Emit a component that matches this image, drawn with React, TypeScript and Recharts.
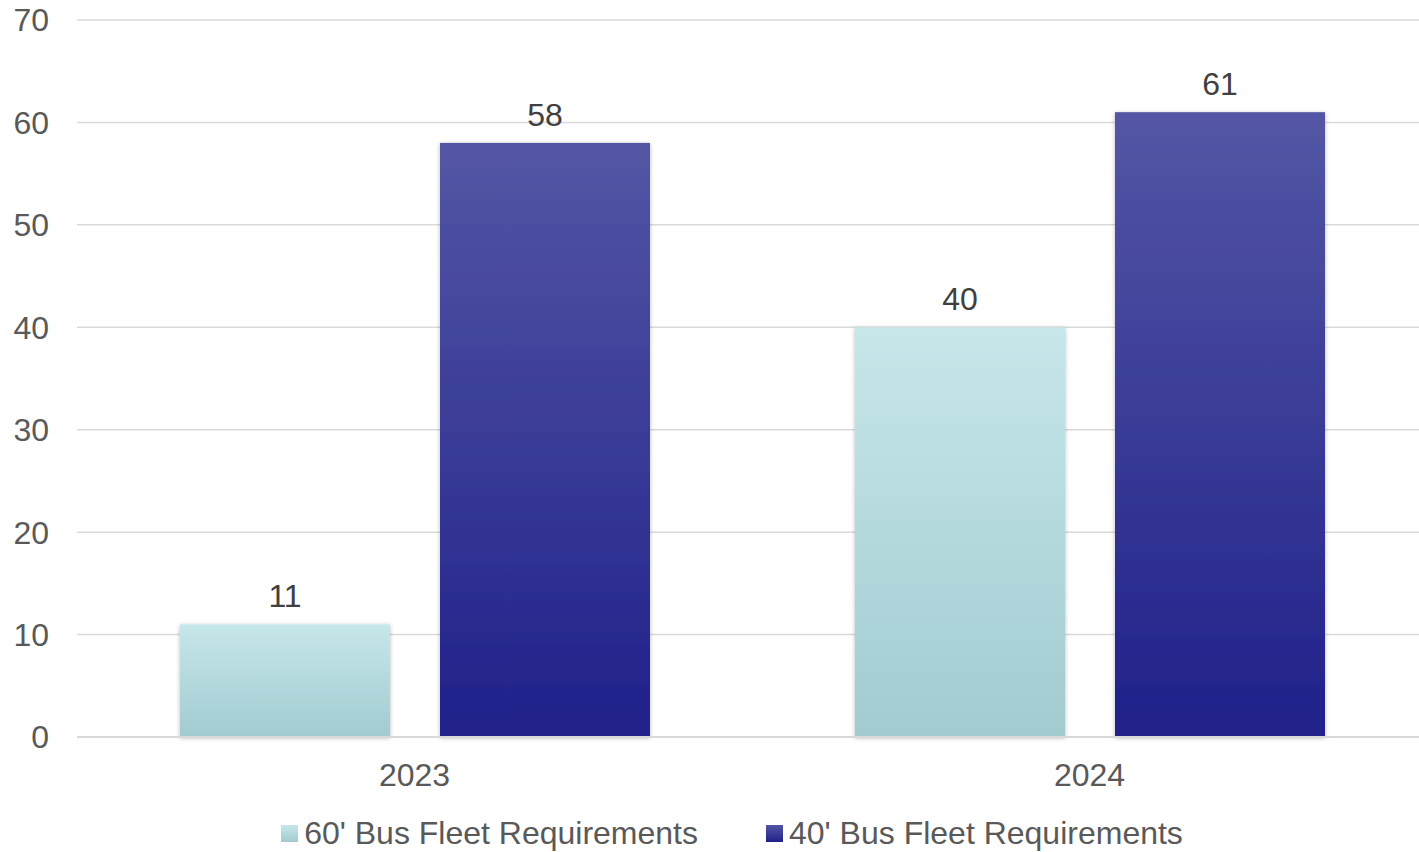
import React from "react";
import {
  BarChart,
  Bar,
  XAxis,
  YAxis,
  CartesianGrid,
  Legend,
  LabelList,
} from "recharts";

const YEARS = ["2023", "2024"];
const BUS_60 = [11, 40];
const BUS_40 = [58, 61];
const Y_TICKS = [0, 10, 20, 30, 40, 50, 60, 70];

const SERIES = [
  { key: "bus60", name: "60' Bus Fleet Requirements", top: "#c6e7ea", bottom: "#a2cbd0", grad: "gradLight" },
  { key: "bus40", name: "40' Bus Fleet Requirements", top: "#5356a4", bottom: "#20208a", grad: "gradDark" },
];

const data = YEARS.map((year, i) => ({
  year,
  bus60: BUS_60[i],
  bus40: BUS_40[i],
}));

const FONT = "'Liberation Sans', Arial, sans-serif";

function ShadowBar(props: any) {
  const { x, y, width, height, fill } = props;
  if (!height || height <= 0) return null;
  return <rect x={x} y={y} width={width} height={height} fill={fill} filter="url(#barShadow)" />;
}

function FleetLegend() {
  return (
    <div
      style={{
        display: "flex",
        justifyContent: "center",
        alignItems: "center",
        paddingLeft: 45,
        paddingTop: 18,
        fontFamily: FONT,
        fontSize: 32,
        color: "#595959",
        height: 37,
      }}
    >
      {SERIES.map((s, i) => (
        <div
          key={s.key}
          style={{ display: "flex", alignItems: "center", marginLeft: i === 0 ? 0 : 68 }}
        >
          <span
            style={{
              display: "inline-block",
              width: 17,
              height: 17,
              marginRight: 6,
              background: `linear-gradient(${s.top}, ${s.bottom})`,
            }}
          />
          <span>{s.name}</span>
        </div>
      ))}
    </div>
  );
}

export default function App() {
  return (
    <div style={{ width: 1419, height: 852, background: "#ffffff", overflow: "hidden" }}>
      <style>{`body{margin:0;overflow:hidden;}`}</style>
      <BarChart
        width={1427}
        height={852}
        data={data}
        margin={{ top: 20, right: 0, bottom: 0, left: 0 }}
        barSize={210}
        barGap={50}
      >
        <defs>
          {SERIES.map((s) => (
            <linearGradient key={s.grad} id={s.grad} x1="0" y1="0" x2="0" y2="1">
              <stop offset="0%" stopColor={s.top} />
              <stop offset="100%" stopColor={s.bottom} />
            </linearGradient>
          ))}
          <filter id="barShadow" x="-10%" y="-10%" width="120%" height="120%">
            <feDropShadow dx="0" dy="1" stdDeviation="2" floodColor="#000" floodOpacity="0.28" />
          </filter>
        </defs>
        <CartesianGrid vertical={false} stroke="#d9d9d9" strokeWidth={1.5} />
        <XAxis
          dataKey="year"
          height={60}
          tickLine={false}
          tickSize={0}
          tickMargin={26}
          axisLine={{ stroke: "#d9d9d9", strokeWidth: 2 }}
          tick={{ fontSize: 32, fill: "#595959", fontFamily: FONT }}
        />
        <YAxis
          width={77}
          domain={[0, 70]}
          ticks={Y_TICKS}
          interval={0}
          axisLine={false}
          tickLine={false}
          tickSize={0}
          tickMargin={28}
          tick={{ fontSize: 32, fill: "#595959", fontFamily: FONT }}
        />
        <Legend
          verticalAlign="bottom"
          height={55}
          wrapperStyle={{ width: 1419, left: 0 }}
          content={<FleetLegend />}
        />
        {SERIES.map((s) => (
          <Bar
            key={s.key}
            dataKey={s.key}
            name={s.name}
            fill={`url(#${s.grad})`}
            shape={<ShadowBar />}
            isAnimationActive={false}
          >
            <LabelList
              dataKey={s.key}
              position="top"
              offset={17}
              style={{ fontSize: 32, fill: "#404040", fontFamily: FONT }}
            />
          </Bar>
        ))}
      </BarChart>
    </div>
  );
}
